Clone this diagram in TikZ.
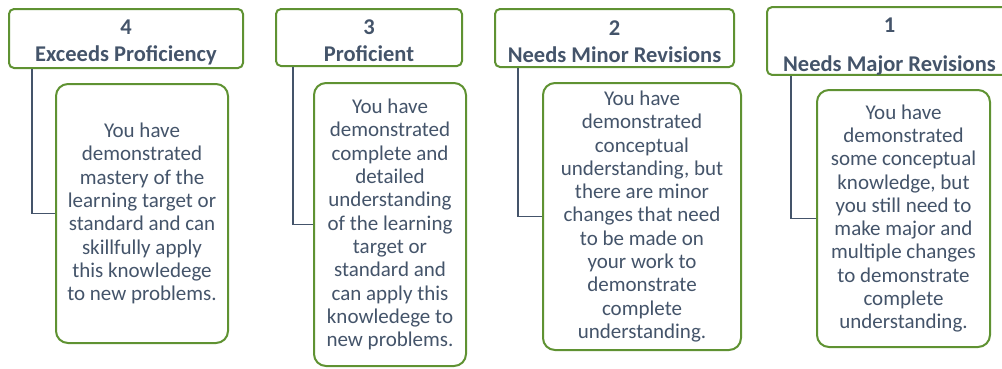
\documentclass[tikz,border=0pt]{standalone}
\usepackage{fontspec}
\setmainfont{Carlito}
\definecolor{rubricgreen}{HTML}{5F9232}
\definecolor{rubricslate}{HTML}{44546A}
\newcommand{\topstrut}[1]{\rule{0pt}{#1}}

\begin{document}
\begin{tikzpicture}[x=1pt, y=-1pt,
    level/.style={draw=rubricgreen, line width=2pt, rounded corners=5pt, fill=white,
      text=rubricslate, font=\fontsize{22.5}{27}\selectfont\bfseries, align=center, inner sep=0pt},
    descr/.style={draw=rubricgreen, line width=2pt, rounded corners=12pt, fill=white,
      text=rubricslate, font=\fontsize{21}{23.3}\selectfont, align=center, inner sep=0pt},
    link/.style={draw=rubricslate, line width=1.8pt}]
    \useasboundingbox (0,0) rectangle (1002,368);

    % level headers
    \node[level, minimum width=234pt, minimum height=59pt] (h4) at (126,38.5) {\topstrut{22pt}4\\Exceeds Proficiency};
    \node[level, minimum width=186pt, minimum height=57pt] (h3) at (369,37.5) {\topstrut{22pt}3\\Proficient};
    \node[level, minimum width=239pt, minimum height=58pt] (h2) at (614.5,38) {\topstrut{22pt}2\\Needs Minor Revisions};
    \node[level, minimum width=245pt, minimum height=64pt] (h1) at (889.5,41) {\topstrut{25pt}1\\[12pt]Needs Major Revisions};

    % descriptions
    \node[descr, minimum width=172pt, minimum height=259pt] (b4) at (142,213.5)
        {You have\\demonstrated\\mastery of the\\learning target or\\standard and can\\skillfully apply\\this knowledege\\to new problems.};
    \node[descr, minimum width=152pt, minimum height=283pt] (b3) at (390,224.5)
        {You have\\demonstrated\\complete and\\detailed\\understanding\\of the learning\\target or\\standard and\\can apply this\\knowledege to\\new problems.};
    \node[descr, minimum width=198pt, minimum height=267pt] (b2) at (642,216.5)
        {You have\\demonstrated\\conceptual\\understanding, but\\there are minor\\changes that need\\to be made on\\your work to\\demonstrate\\complete\\understanding.};
    \node[descr, minimum width=173pt, minimum height=257pt] (b1) at (903.5,218.5)
        {You have\\demonstrated\\some conceptual\\knowledge, but\\you still need to\\make major and\\multiple changes\\to demonstrate\\complete\\understanding.};

    % links
    \draw[link] ([xshift=24pt]h4.south west) |- (b4.west);
    \draw[link] ([xshift=18pt]h3.south west) |- (b3.west);
    \draw[link] ([xshift=24pt]h2.south west) |- (b2.west);
    \draw[link] ([xshift=25pt]h1.south west) |- (b1.west);
\end{tikzpicture}
\end{document}
